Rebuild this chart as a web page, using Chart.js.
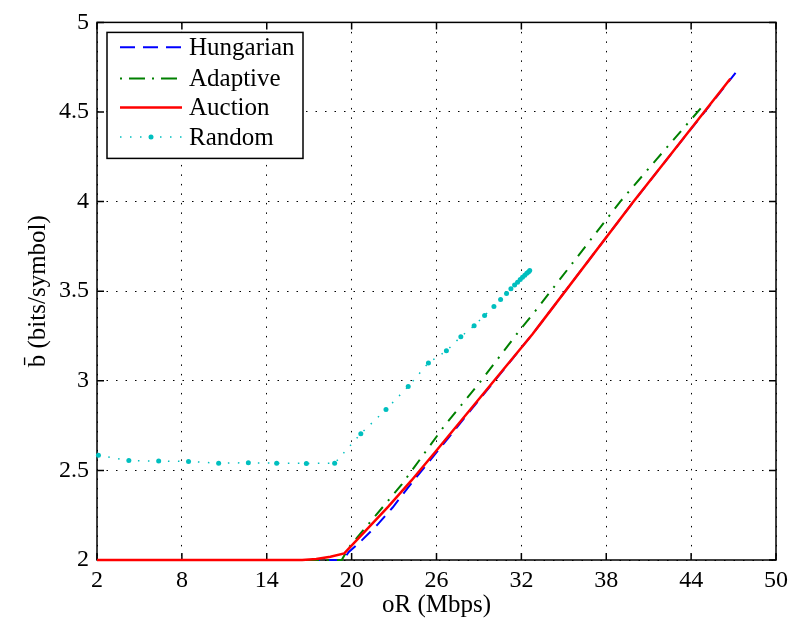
<!DOCTYPE html>
<html><head><meta charset="utf-8">
<script src="https://cdn.jsdelivr.net/npm/chart.js@4"></script>
<style>html,body{margin:0;padding:0;background:#fff}#wrap{width:794px;height:623px}</style>
</head><body><div id="wrap"><canvas id="c" width="794" height="623"></canvas></div>
<script>
const xTicks = [2, 8, 14, 20, 26, 32, 38, 44, 50];
const yTicks = [2, 2.5, 3, 3.5, 4, 4.5, 5];
const seriesNames = ['Hungarian', 'Adaptive', 'Auction', 'Random'];
const xTitle = 'oR (Mbps)';
const yTitle = 'b\u0304 (bits/symbol)';

const hungarianX = [2, 17, 19.4, 19.8, 20.5, 21.8, 22.9, 24.0, 26.0, 32.78, 33.49, 39.93, 42.15, 47.14];
const hungarianY = [2, 2, 2.0, 2.045, 2.093, 2.195, 2.293, 2.405, 2.6, 3.26, 3.333, 4.0, 4.222, 4.718];

const adaptiveX = [2, 17, 19.3, 19.8, 23.53, 26.57, 29.15, 31.84, 33.13, 38.99, 41.57, 44.96];
const adaptiveY = [2, 2, 2.0, 2.07, 2.42, 2.75, 3.0, 3.278, 3.404, 4.0, 4.237, 4.546];

const auctionX = [2, 16.5, 17.5, 18.5, 19.48, 22.59, 24.23, 26.0, 32.78, 33.49, 39.93, 42.15, 46.77];
const auctionY = [2, 2, 2.005, 2.018, 2.037, 2.298, 2.444, 2.611, 3.26, 3.333, 4.0, 4.222, 4.685];

const randomX = [2.1, 4.25, 6.36, 8.47, 10.6, 12.7, 14.7, 16.8, 18.8, 20.65, 22.43, 24.0, 25.43, 26.7, 27.72, 28.66, 29.4, 30.06, 30.53, 30.95, 31.26, 31.52, 31.73, 31.92, 32.08, 32.24, 32.38, 32.5, 32.59];
const randomY = [2.585, 2.555, 2.552, 2.55, 2.54, 2.543, 2.54, 2.539, 2.54, 2.705, 2.84, 2.968, 3.10, 3.167, 3.246, 3.307, 3.365, 3.415, 3.454, 3.487, 3.513, 3.535, 3.55, 3.565, 3.578, 3.589, 3.6, 3.607, 3.615];

const pts = (xs, ys) => xs.map((x, i) => ({x: x, y: ys[i]}));
const FONT = 'Liberation Serif, Times New Roman, serif';

const styles = [
  {color: '#0000ff', width: 2, dash: [13, 8], order: 3},
  {color: '#008000', width: 2, dash: [12, 8, 2, 8], order: 2},
  {color: '#ff0000', width: 2.5, dash: [], order: 0},
  {color: '#00bfbf', width: 1.5, dash: [1.5, 8.5], order: 1}
];
const allData = [pts(hungarianX, hungarianY), pts(adaptiveX, adaptiveY), pts(auctionX, auctionY), pts(randomX, randomY)];

const datasets = seriesNames.map((name, i) => ({
  label: name,
  data: allData[i],
  borderColor: styles[i].color,
  backgroundColor: styles[i].color,
  borderWidth: styles[i].width,
  borderDash: styles[i].dash,
  borderCapStyle: 'butt',
  pointRadius: i === 3 ? 2.5 : 0,
  pointBorderWidth: 0,
  pointBackgroundColor: styles[i].color,
  tension: 0,
  fill: false,
  order: styles[i].order,
  clip: 4
}));

const framePlugin = {
  id: 'frame',
  beforeDatasetsDraw(chart) {
    const {ctx, chartArea: a, scales} = chart;
    ctx.save();
    ctx.strokeStyle = '#000';
    ctx.lineWidth = 1.5;
    ctx.setLineDash([]);
    ctx.strokeRect(a.left, a.top, a.right - a.left, a.bottom - a.top);
    const L = 7;
    ctx.beginPath();
    xTicks.forEach(v => {
      const px = scales.x.getPixelForValue(v);
      ctx.moveTo(px, a.bottom); ctx.lineTo(px, a.bottom - L);
      ctx.moveTo(px, a.top); ctx.lineTo(px, a.top + L);
    });
    yTicks.forEach(v => {
      const py = scales.y.getPixelForValue(v);
      ctx.moveTo(a.left, py); ctx.lineTo(a.left + L, py);
      ctx.moveTo(a.right, py); ctx.lineTo(a.right - L, py);
    });
    ctx.stroke();
    ctx.restore();
  }
};

const legendPlugin = {
  id: 'boxLegend',
  afterDraw(chart) {
    const ctx = chart.ctx;
    const a = chart.chartArea;
    const bx = a.left + 10, by = a.top + 10, bw = 196, bh = 126;
    ctx.save();
    ctx.fillStyle = '#fff';
    ctx.fillRect(bx, by, bw, bh);
    ctx.strokeStyle = '#000';
    ctx.lineWidth = 1.5;
    ctx.setLineDash([]);
    ctx.strokeRect(bx, by, bw, bh);
    const rowY = [47.3, 78.5, 107.5, 137];
    const x0 = bx + 13, x1 = bx + 75;
    const legendDash = [[15, 8], [2, 7, 16, 7], [], [1.5, 8.5]];
    ctx.font = '25px ' + FONT;
    ctx.textBaseline = 'middle';
    ctx.textAlign = 'left';
    seriesNames.forEach((name, i) => {
      const y = rowY[i];
      ctx.strokeStyle = styles[i].color;
      ctx.lineWidth = styles[i].width;
      ctx.lineCap = 'butt';
      ctx.setLineDash(legendDash[i]);
      ctx.beginPath();
      ctx.moveTo(x0, y); ctx.lineTo(x1, y);
      ctx.stroke();
      ctx.setLineDash([]);
      if (i === 3) {
        ctx.fillStyle = styles[i].color;
        ctx.beginPath();
        ctx.arc((x0 + x1) / 2, y, 2.5, 0, Math.PI * 2);
        ctx.fill();
      }
      ctx.fillStyle = '#000';
      ctx.fillText(name, bx + 82, y + 1);
    });
    ctx.restore();
  }
};

new Chart(document.getElementById('c'), {
  type: 'line',
  data: {datasets: datasets},
  options: {
    responsive: false,
    animation: false,
    devicePixelRatio: 1,
    layout: {padding: {left: 0, right: 14, top: 20, bottom: 0}},
    plugins: {legend: {display: false}, tooltip: {enabled: false}},
    scales: {
      x: {
        type: 'linear', min: 2, max: 50,
        afterBuildTicks: s => { s.ticks = xTicks.map(v => ({value: v})); },
        ticks: {font: {family: FONT, size: 24}, color: '#000', padding: 6, maxRotation: 0, autoSkip: false, callback: v => String(v)},
        grid: {color: '#000', lineWidth: 1, drawTicks: false},
        border: {display: false, dash: [1.5, 8]},
        title: {display: true, text: xTitle, font: {family: FONT, size: 25}, color: '#000', padding: {top: 0, bottom: 3}},
        afterFit: s => { s.height = 63; }
      },
      y: {
        type: 'linear', min: 2, max: 5,
        afterBuildTicks: s => { s.ticks = yTicks.map(v => ({value: v})); },
        ticks: {font: {family: FONT, size: 24}, color: '#000', padding: 8, callback: v => String(v)},
        grid: {color: '#000', lineWidth: 1, drawTicks: false},
        border: {display: false, dash: [1.5, 8]},
        title: {display: true, text: yTitle, font: {family: FONT, size: 25}, color: '#000', padding: {top: 23, bottom: 0}},
        afterFit: s => { s.width = 97; }
      }
    }
  },
  plugins: [framePlugin, legendPlugin]
});
</script>
</body></html>
